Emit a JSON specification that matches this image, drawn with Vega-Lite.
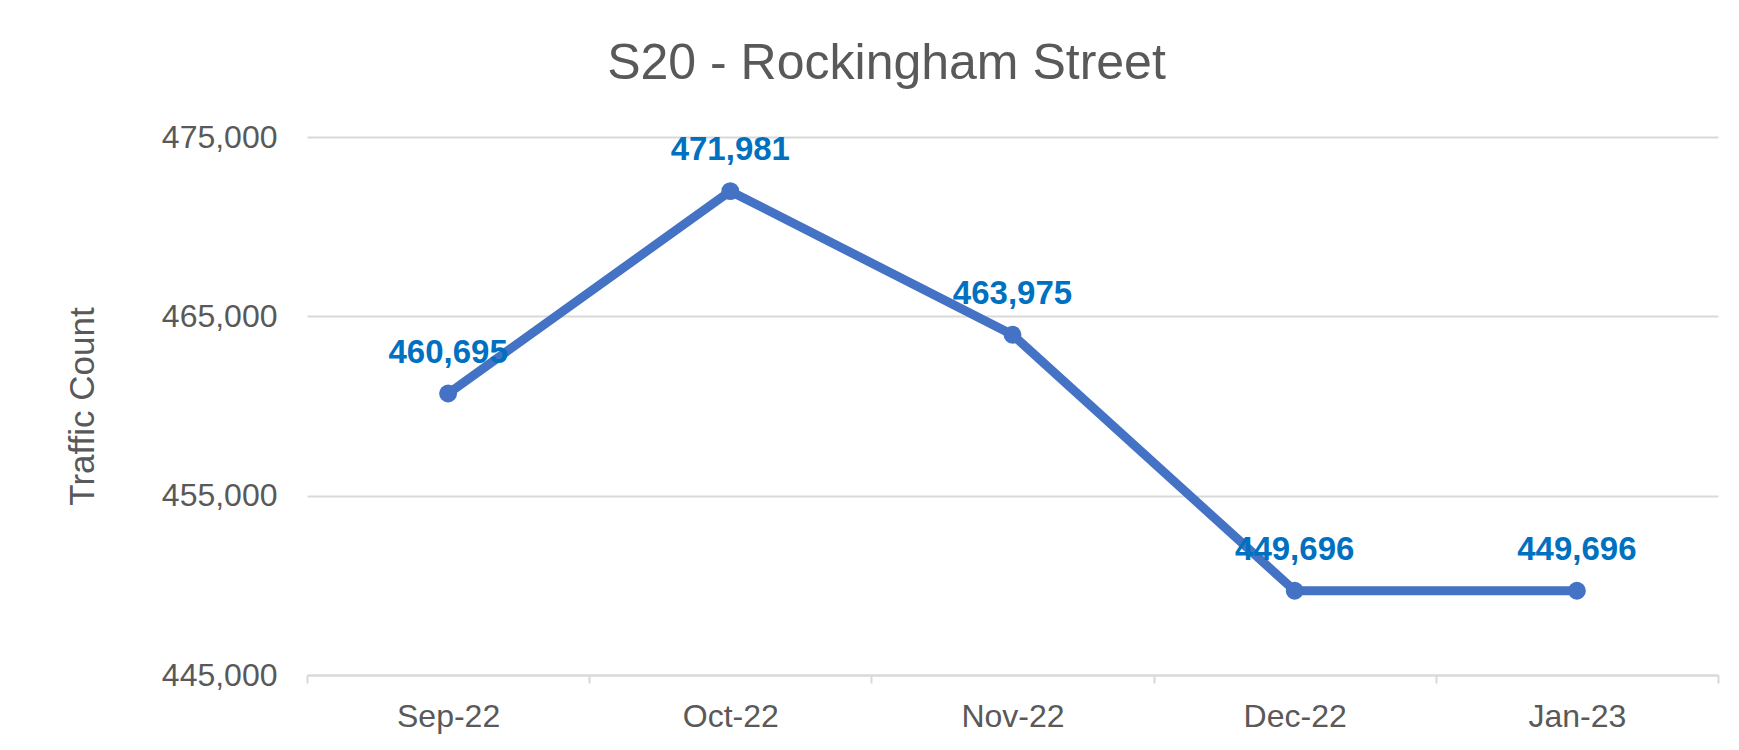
{
  "$schema": "https://vega.github.io/schema/vega-lite/v6.json",
  "autosize": {"type": "none"},
  "padding": {"left": 307, "top": 137, "right": 21, "bottom": 75},
  "width": 1411,
  "height": 538,
  "background": "white",
  "config": {
    "view": {"stroke": null},
    "font": "Liberation Sans"
  },
  "title": {
    "text": "S20 - Rockingham Street",
    "fontSize": 50,
    "fontWeight": "normal",
    "color": "#595959",
    "font": "Liberation Sans",
    "anchor": "middle",
    "frame": "group",
    "baseline": "alphabetic",
    "offset": -8,
    "dx": -126
  },
  "data": {
    "values": [
      {"month": "Sep-22", "count": 460695},
      {"month": "Oct-22", "count": 471981},
      {"month": "Nov-22", "count": 463975},
      {"month": "Dec-22", "count": 449696},
      {"month": "Jan-23", "count": 449696}
    ]
  },
  "encoding": {
    "x": {
      "field": "month",
      "type": "ordinal",
      "sort": null,
      "scale": {"type": "band", "paddingInner": 0, "paddingOuter": 0},
      "axis": {
        "title": null,
        "labelAngle": 0,
        "labelFontSize": 32,
        "labelColor": "#595959",
        "labelPadding": 18,
        "tickBand": "extent",
        "ticks": true,
        "tickSize": 8,
        "tickColor": "#D9D9D9",
        "tickWidth": 2,
        "domainColor": "#D9D9D9",
        "domainWidth": 2,
        "grid": false
      }
    },
    "y": {
      "field": "count",
      "type": "quantitative",
      "scale": {"domain": [445000, 475000], "nice": false, "zero": false},
      "axis": {
        "title": "Traffic Count",
        "titleFontSize": 35,
        "titleFontWeight": "normal",
        "titleColor": "#595959",
        "titleX": -214,
        "titleY": 269,
        "titleAngle": -90,
        "titleAlign": "center",
        "titleBaseline": "alphabetic",
        "values": [445000, 455000, 465000, 475000],
        "format": ",.0f",
        "labelFontSize": 32,
        "labelColor": "#595959",
        "labelPadding": 30,
        "ticks": false,
        "tickSize": 0,
        "domain": false,
        "grid": true,
        "gridColor": "#D9D9D9",
        "gridWidth": 2
      }
    }
  },
  "layer": [
    {
      "mark": {"type": "line", "color": "#4472C4", "strokeWidth": 9, "strokeJoin": "round"}
    },
    {
      "mark": {"type": "point", "filled": true, "opacity": 1, "color": "#4472C4", "size": 320}
    },
    {
      "mark": {"type": "text", "baseline": "alphabetic", "dy": -31, "fontSize": 33, "fontWeight": "bold", "color": "#0070C0"},
      "encoding": {"text": {"field": "count", "type": "quantitative", "format": ",.0f"}}
    }
  ]
}
